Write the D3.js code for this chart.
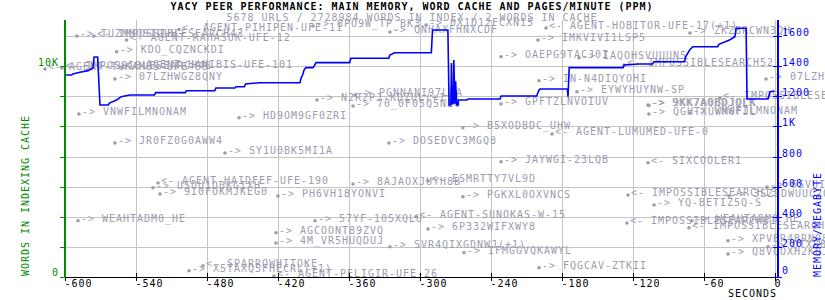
<!DOCTYPE html>
<html>
<head>
<meta charset="utf-8">
<script src="https://cdn.jsdelivr.net/npm/d3@7"></script>
<style>
  body { margin: 0; background: #fff; }
  text { font-family: "DejaVu Sans Mono", monospace; font-size: 10px; letter-spacing: 0.98px; }
</style>
</head>
<body>
<div class="perfChart"></div>
<script>
// x axis (seconds before now)
var xTicks = [-600, -540, -480, -420, -360, -300, -240, -180, -120, -60, 0];
// right axis (memory, megabyte)
var memTicks = [0, 200, 400, 600, 800, 1000, 1200, 1400, 1600];
var memTickLabels = ["0", "200", "400", "600", "800", "1K", "1200", "1400", "1600"];
// left axis (words in indexing cache)
var wordTickLabels = ["0", "10K"];
var wordTickValues = [0, 10000];

// memory usage trace
var memSeconds = [-600, -594, -593, -587, -580, -576, -575, -572, -570, -563, -562, -558, -556, -552, -545,
  -524, -523, -498, -497, -473, -472, -456, -455, -448, -447, -435, -401, -400, -398.5, -397.6, -396,
  -390, -389, -387.5, -359, -358, -326, -325, -321, -290, -289, -276, -275, -273.5, -273, -272.5,
  -271.5, -271, -270, -269.5, -268.5, -267.5, -267, -260, -259, -232, -231, -201, -199, -198, -175,
  -174.5, -173.5, -128, -127, -114, -103, -102, -76, -75, -71.5, -69, -48, -47, -38, -33.5, -32.5,
  -24, -23.2, -5.5, -5, -3.8, 0];
var memMB = [1341, 1341, 1348, 1359, 1370, 1388, 1461, 1461, 1142, 1142, 1155, 1168, 1175, 1197, 1208,
  1208, 1224, 1224, 1237, 1237, 1255, 1255, 1263, 1263, 1281, 1290, 1290, 1321, 1346, 1374, 1390,
  1390, 1401, 1423, 1423, 1452, 1452, 1474, 1489, 1489, 1640, 1640, 1142, 1142, 1420, 1150,
  1150, 1440, 1150, 1300, 1142, 1142, 1175, 1175, 1182, 1182, 1202, 1202, 1241, 1248, 1248,
  1197, 1390, 1390, 1407, 1414, 1414, 1429, 1429, 1463, 1509, 1529, 1529, 1545, 1574, 1595, 1651,
  1651, 1182, 1182, 1197, 1230, 1235];

// peer contacts
var peerNames = ["TUZMMOSIDUH", "IMPOSSIBLESEARCH43", "AGENT-PIHIPEN-UFE-11", "AGENT-RAHASUK-UFE-12",
  "KDO_CQZNCKDI", "AGENT-TUKAMUS-UFE-55", "IMPOSSIBLESEARCH48", "AGENT-HANIBIS-UFE-101", "07LZHWGZ8QNY",
  "8PO9W_TP_BK3", "0X1D12FCXN15", "QNHAXFHNXCDF", "AGENT-HOBITOR-UFE-17(+1)", "ZKZBRCWN3QH",
  "IMKVIVI1LSP5", "OAEPG9TACJ0I", "IAQOHSVUUUN5", "IMPOSSIBLESEARCH52", "07LZHWGZ8QNY", "IN-N4DIQYOHI",
  "EYWYHUYNW-SP", "IMPOSSIBLESEARCH26", "PGNNANI97L8A", "N2R2PJ-KDZUL(+1)", "70_0F05Q5NE6",
  "VNWFILMNONAM", "HD9OM9GF0ZRI", "GPFTZLNVOIUV", "9KK7AQBDJOLK", "9KK7A0BDJOLK", "QGHTXUWM0FJL",
  "VNWFILMNONAM", "B5XODBDC_UHW", "AGENT-LUMUMED-UFE-0", "DOSEDVC3MGQ8", "JR0FZ0G0AWW4",
  "SY1U0BK5MI1A", "JAYWGI-23LQB", "SIXCOOLER1", "AGENT-HAIDFEF-UFE-190", "USUU1D0KGIXH",
  "9I0FOKMJKEG0", "8AJAOXJUYH8B", "ESMRTTY7VL9D", "PH6VH18YONVI", "PGKXL0OXVNCS",
  "IMPOSSIBLESEARCH13", "6SVUI1QWE8", "3SZJDWUUC2Q", "YQ-BETIZ5Q-S", "WEAHTADM0_HE", "57YF-105XQLU",
  "AGENT-SUNOKAS-W-15", "6P332WIFXWY8", "IMPOSSIBLESEARCH61", "WEAHTADM0_HE", "IMPOSSIBLESEARCH38",
  "AGCOONT89ZVQ", "4M_VR5HUQDUJ", "SVR4QIXGDNWJ(+1)", "IFMGGVQKAWYL", "XPVBR4BRNQ8", "QTXE8W9A",
  "Q8VQOXH2KQJ", "FQGCAV-ZTKII", "AGENT-PELIGIR-UFE-26", "X5TAXQ5FHECRL(+1)", "SPARROWHITOKE"];
var peerDirs = ["->", "<-", "<-", "<-",
  "->", "<-", "<-", "<-", "->",
  "->", "->", "->", "<-", "->",
  "->", "->", "->", "<-", "->", "->",
  "->", "<-", "->", "->", "->",
  "->", "->", "->", "->", "->", "->",
  "->", "->", "<-", "->", "->",
  "->", "->", "<-", "<-", "->",
  "->", "->", "<-", "->", "->",
  "<-", "->", "->", "->", "->", "->",
  "<-", "->", "<-", "->", "<-",
  "->", "->", "->", "->", "->", "->",
  "->", "->", "<-", "->", "<-"];
var peerSeconds = [-589.5, -575.1, -503.3, -547.5,
  -555.9, -616.5, -602.1, -551.5, -557.4,
  -390, -294.5, -325, -193.1, -71.4,
  -199.9, -231.1, -165.2, -127.2, -7.2, -199,
  -166.9, -46.1, -354.5, -386.6, -356.2,
  -587.8, -452.5, -231.1, -106.9, -106.1, -106.1,
  -71.4, -263.3, -188, -325.8, -557.4,
  -464.4, -231.1, -106.9, -521, -525.2,
  -519.3, -356.2, -292.8, -419.6, -263.3,
  -123.8, -6.3, -38.5, -101.8, -588.6, -388.3,
  -303, -292.8, -124.7, -69.7, -72.3,
  -421.3, -421.3, -325, -262.4, -39.3, -5.5,
  -39.3, -199, -423, -494.8, -483];
var peerWords = [11421, 11421, 11729, 11232,
  10677, 9857, 9905, 9952, 9383,
  11895, 11943, 11611, 11800, 11563,
  11232, 10440, 10393, 10047, 9383, 9303,
  8782, 8483, 8625, 8388, 8104,
  7725, 7549, 8199, 8151, 8130, 7725,
  7772, 7075, 6777, 6350, 6350,
  5876, 5464, 5417, 4455, 4232,
  3933, 4407, 4564, 3839, 3805,
  3886, 4265, 3839, 3412, 2668, 2668,
  2858, 2275, 2559, 2668, 2336,
  2099, 1611, 1436, 1152, 1720, 1436,
  1090, 441, 47, 299, 536];

var width = 825, height = 300;
var green = "#008c00", blue = "#0000ff", peerGray = "#9c9cae", gridGray = "#c4c4c4";

var svg = d3.select(".perfChart").append("svg")
  .attr("width", width)
  .attr("height", height);

svg.append("rect").attr("width", width).attr("height", height).attr("fill", "#fff");

var x = d3.scaleLinear().domain([-600, 0]).range([64.5, 774.5]);
var yWords = d3.scaleLinear().domain([0, 10000]).range([277, 66]);
var yMem = d3.scaleLinear().domain([0, 1600]).range([277, 36]);

// grid
var grid = svg.append("g").attr("stroke", gridGray).attr("shape-rendering", "crispEdges");
grid.selectAll("line.v").data(xTicks.slice(1)).enter().append("line")
  .attr("x1", function(d) { return Math.round(x(d)) + 0.5; })
  .attr("x2", function(d) { return Math.round(x(d)) + 0.5; })
  .attr("y1", 20).attr("y2", 277);
grid.selectAll("line.h").data(memTicks.slice(1)).enter().append("line")
  .attr("x1", 64).attr("x2", 777)
  .attr("y1", function(d) { return Math.round(yMem(d)) + 0.5; })
  .attr("y2", function(d) { return Math.round(yMem(d)) + 0.5; });

// titles
svg.append("text").attr("x", 412).attr("y", 10).attr("text-anchor", "middle")
  .style("font-weight", "bold").attr("fill", "#000")
  .text("YACY PEER PERFORMANCE: MAIN MEMORY, WORD CACHE AND PAGES/MINUTE (PPM)");
svg.append("text").attr("x", 412).attr("y", 20.5).attr("text-anchor", "middle")
  .attr("fill", peerGray)
  .text("5678 URLS / 2728984 WORDS IN INDEX / 2 WORDS IN CACHE");

// peer contacts
var peers = svg.append("g");
var pg = peers.selectAll("g.peer").data(peerNames).enter().append("g")
  .attr("transform", function(d, i) {
    return "translate(" + x(peerSeconds[i]) + "," + yWords(peerWords[i]) + ")";
  });
pg.append("circle").attr("r", 1.8).attr("fill", peerGray);
pg.append("text").attr("x", 3).attr("y", 1)
  .attr("fill", peerGray)
  .style("white-space", "pre")
  .text(function(d, i) { return peerDirs[i] + " " + d; });

// memory line
var memLine = d3.line()
  .x(function(d) { return x(d[0]); })
  .y(function(d) { return yMem(d[1]); });
svg.append("path")
  .datum(d3.zip(memSeconds, memMB))
  .attr("fill", "none")
  .attr("stroke", blue)
  .attr("stroke-width", 1.6)
  .attr("d", memLine);

// bottom axis
var axis = svg.append("g").attr("shape-rendering", "crispEdges");
axis.append("line").attr("x1", 64).attr("x2", 778).attr("y1", 277.5).attr("y2", 277.5)
  .attr("stroke", "#000").attr("stroke-width", 1.5);
axis.selectAll("line.xt").data(xTicks).enter().append("line")
  .attr("x1", function(d) { return Math.round(x(d)) + 0.5; })
  .attr("x2", function(d) { return Math.round(x(d)) + 0.5; })
  .attr("y1", 273).attr("y2", 281)
  .attr("stroke", "#000").attr("stroke-width", 1.5);
svg.selectAll("text.xl").data(xTicks).enter().append("text")
  .attr("x", function(d) { return x(d); })
  .attr("y", 286.5)
  .attr("fill", "#000")
  .text(function(d) { return d; });
svg.append("text").attr("x", 728).attr("y", 296.5).attr("fill", "#000").text("SECONDS");

// left axis (words)
axis.append("line").attr("x1", 64.5).attr("x2", 64.5).attr("y1", 20).attr("y2", 278)
  .attr("stroke", green).attr("stroke-width", 2);
axis.selectAll("line.lt").data(memTicks.slice(0, 8)).enter().append("line")
  .attr("x1", 60).attr("x2", 65)
  .attr("y1", function(d) { return Math.round(yMem(d)) + 0.5; })
  .attr("y2", function(d) { return Math.round(yMem(d)) + 0.5; })
  .attr("stroke", green).attr("stroke-width", 1.5);
svg.selectAll("text.ll").data(wordTickValues).enter().append("text")
  .attr("x", 59).attr("y", function(d) { return yWords(d) - (d ? 0 : 1); })
  .attr("text-anchor", "end")
  .attr("fill", green)
  .text(function(d, i) { return wordTickLabels[i]; });
svg.append("text")
  .attr("transform", "translate(28.6,276) rotate(-90)")
  .attr("fill", green)
  .text("WORDS IN INDEXING CACHE");

// right axis (memory)
axis.append("line").attr("x1", 777.5).attr("x2", 777.5).attr("y1", 20).attr("y2", 278)
  .attr("stroke", blue).attr("stroke-width", 2);
axis.selectAll("line.rt").data(memTicks).enter().append("line")
  .attr("x1", 773).attr("x2", 782)
  .attr("y1", function(d) { return Math.round(yMem(d)) + 0.5; })
  .attr("y2", function(d) { return Math.round(yMem(d)) + 0.5; })
  .attr("stroke", blue).attr("stroke-width", 1.5);
svg.selectAll("text.rl").data(memTicks).enter().append("text")
  .attr("x", 782).attr("y", function(d) { return yMem(d) - (d ? 0 : 3); })
  .attr("fill", blue)
  .text(function(d, i) { return memTickLabels[i]; });
svg.append("text")
  .attr("transform", "translate(820.6,277) rotate(-90)")
  .attr("fill", blue)
  .text("MEMORY/MEGABYTE");
</script>
</body>
</html>
